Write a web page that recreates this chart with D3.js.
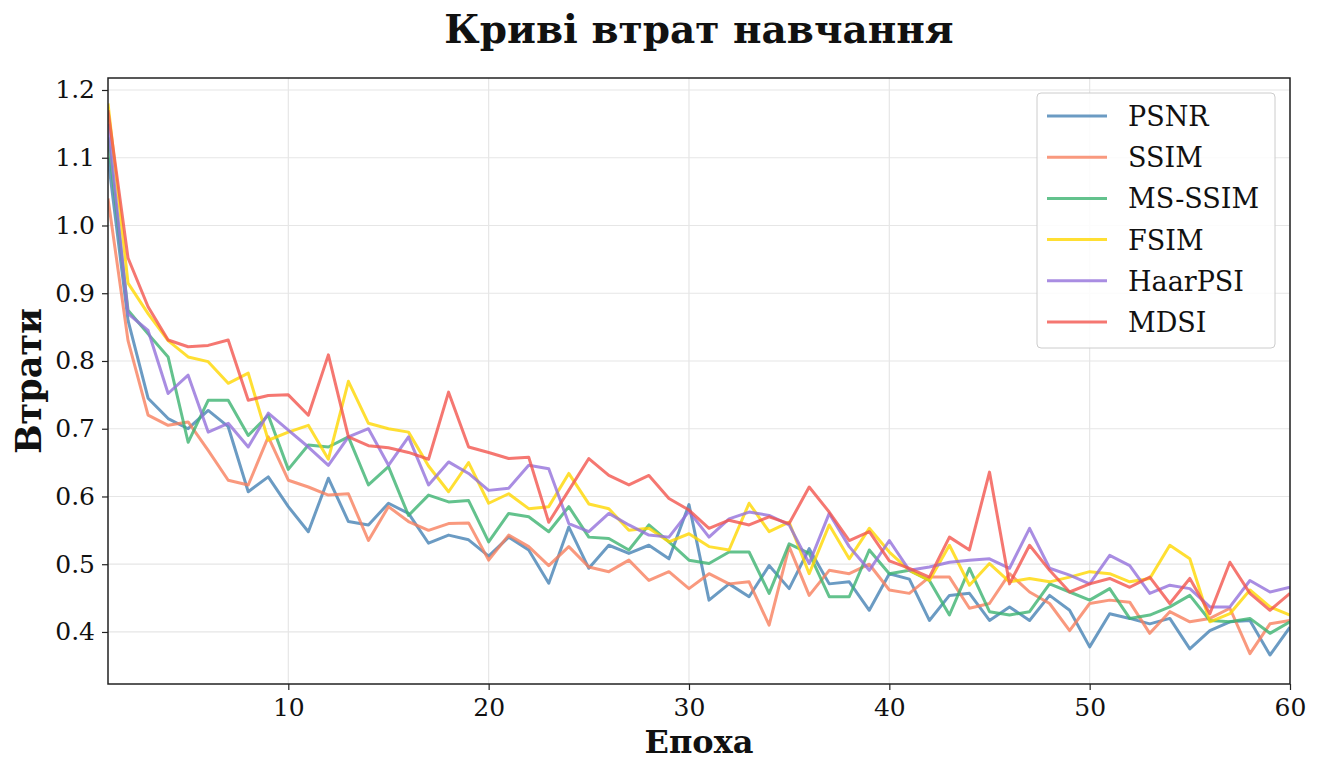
<!DOCTYPE html>
<html>
<head>
<meta charset="utf-8">
<script src="https://cdn.jsdelivr.net/npm/d3@7"></script>
<style>
  html, body { margin: 0; padding: 0; background: #fff; }
  svg { display: block; }
  text { font-family: "DejaVu Serif", serif; fill: #111; }
</style>
</head>
<body>
<svg id="chart" width="1323" height="762"></svg>
<script>
// Training-loss values per epoch for each loss function
const epochs = d3.range(1, 61);
const seriesNames = ["PSNR", "SSIM", "MS-SSIM", "FSIM", "HaarPSI", "MDSI"];

const psnr = [1.10, 0.86, 0.745, 0.715, 0.70, 0.727, 0.703, 0.607, 0.629, 0.585,
  0.548, 0.627, 0.563, 0.558, 0.59, 0.575, 0.531, 0.543, 0.536, 0.512,
  0.54, 0.521, 0.472, 0.555, 0.494, 0.528, 0.516, 0.528, 0.508, 0.588,
  0.447, 0.471, 0.452, 0.498, 0.464, 0.523, 0.471, 0.474, 0.432, 0.486,
  0.478, 0.417, 0.454, 0.457, 0.417, 0.437, 0.417, 0.454, 0.432, 0.378,
  0.427, 0.42, 0.412, 0.42, 0.375, 0.402, 0.415, 0.417, 0.366, 0.407];

const ssim = [1.04, 0.83, 0.72, 0.705, 0.71, 0.668, 0.624, 0.617, 0.688, 0.624,
  0.614, 0.602, 0.604, 0.535, 0.585, 0.563, 0.55, 0.56, 0.561, 0.506,
  0.543, 0.526, 0.498, 0.526, 0.496, 0.489, 0.506, 0.476, 0.489, 0.464,
  0.486, 0.471, 0.474, 0.41, 0.526, 0.454, 0.491, 0.486, 0.50, 0.462,
  0.457, 0.481, 0.481, 0.435, 0.442, 0.486, 0.459, 0.442, 0.402, 0.442,
  0.447, 0.444, 0.398, 0.43, 0.415, 0.42, 0.435, 0.368, 0.412, 0.417];

const msssim = [1.13, 0.875, 0.84, 0.806, 0.68, 0.742, 0.742, 0.69, 0.72, 0.64,
  0.676, 0.673, 0.688, 0.617, 0.644, 0.572, 0.602, 0.592, 0.594, 0.533,
  0.575, 0.57, 0.548, 0.585, 0.54, 0.538, 0.521, 0.558, 0.533, 0.506,
  0.501, 0.518, 0.518, 0.457, 0.53, 0.516, 0.452, 0.452, 0.521, 0.486,
  0.491, 0.476, 0.425, 0.494, 0.43, 0.425, 0.43, 0.471, 0.459, 0.447,
  0.464, 0.42, 0.425, 0.437, 0.454, 0.417, 0.415, 0.42, 0.398, 0.415];

const fsim = [1.18, 0.915, 0.87, 0.83, 0.806, 0.799, 0.767, 0.782, 0.683, 0.695,
  0.705, 0.655, 0.77, 0.708, 0.70, 0.695, 0.645, 0.607, 0.65, 0.59,
  0.604, 0.582, 0.585, 0.634, 0.589, 0.582, 0.55, 0.553, 0.533, 0.545,
  0.526, 0.521, 0.59, 0.548, 0.562, 0.486, 0.558, 0.508, 0.553, 0.518,
  0.491, 0.476, 0.528, 0.469, 0.501, 0.474, 0.479, 0.474, 0.481, 0.489,
  0.486, 0.474, 0.479, 0.528, 0.508, 0.415, 0.427, 0.462, 0.437, 0.425];

const haarpsi = [1.15, 0.87, 0.845, 0.752, 0.779, 0.695, 0.708, 0.673, 0.723, 0.698,
  0.673, 0.646, 0.688, 0.70, 0.646, 0.688, 0.617, 0.651, 0.634, 0.609,
  0.612, 0.646, 0.641, 0.56, 0.548, 0.575, 0.558, 0.543, 0.54, 0.578,
  0.54, 0.567, 0.577, 0.572, 0.558, 0.501, 0.575, 0.526, 0.491, 0.535,
  0.491, 0.496, 0.503, 0.506, 0.508, 0.494, 0.553, 0.494, 0.484, 0.471,
  0.513, 0.498, 0.457, 0.469, 0.464, 0.437, 0.437, 0.476, 0.459, 0.466];

const mdsi = [1.17, 0.952, 0.88, 0.831, 0.821, 0.823, 0.831, 0.742, 0.749, 0.75,
  0.72, 0.809, 0.688, 0.675, 0.672, 0.665, 0.655, 0.754, 0.673, 0.665,
  0.656, 0.658, 0.562, 0.609, 0.656, 0.631, 0.617, 0.631, 0.597, 0.58,
  0.553, 0.565, 0.558, 0.57, 0.56, 0.614, 0.577, 0.535, 0.548, 0.505,
  0.494, 0.481, 0.54, 0.521, 0.636, 0.471, 0.528, 0.491, 0.459, 0.471,
  0.479, 0.466, 0.481, 0.442, 0.479, 0.427, 0.503, 0.457, 0.432, 0.457];

const seriesValues = [psnr, ssim, msssim, fsim, haarpsi, mdsi];
const seriesColors = ["#4682B4", "#F8805E", "#3CB371", "#FFD700", "#9370DB", "#F2554E"];

const xTicks = [10, 20, 30, 40, 50, 60];
const yTicks = [0.4, 0.5, 0.6, 0.7, 0.8, 0.9, 1.0, 1.1, 1.2];

const titleText = "Криві втрат навчання";
const xLabel = "Епоха";
const yLabel = "Втрати";

// Plot frame
const plot = { left: 108, right: 1290, top: 78, bottom: 684 };

const svg = d3.select("#chart");

const x = d3.scaleLinear().domain([1, 60]).range([plot.left, plot.right]);
const y = d3.scaleLinear().domain([0.3232, 1.2177]).range([plot.bottom, plot.top]);

// Grid
const grid = svg.append("g");
grid.selectAll("line.gx").data(xTicks).join("line")
  .attr("x1", d => x(d)).attr("x2", d => x(d))
  .attr("y1", plot.top).attr("y2", plot.bottom)
  .attr("stroke", "#e6e6e6").attr("stroke-width", 1.2);
grid.selectAll("line.gy").data(yTicks).join("line")
  .attr("x1", plot.left).attr("x2", plot.right)
  .attr("y1", d => y(d)).attr("y2", d => y(d))
  .attr("stroke", "#e6e6e6").attr("stroke-width", 1.2);

// Lines
const line = d3.line()
  .x((d, i) => x(epochs[i]))
  .y(d => y(d));

svg.append("clipPath").attr("id", "plotclip")
  .append("rect")
  .attr("x", plot.left).attr("y", plot.top)
  .attr("width", plot.right - plot.left).attr("height", plot.bottom - plot.top);

svg.append("g").attr("clip-path", "url(#plotclip)")
  .selectAll("path.series")
  .data(seriesValues)
  .join("path")
  .attr("class", "series")
  .attr("d", d => line(d))
  .attr("fill", "none")
  .attr("stroke", (d, i) => seriesColors[i])
  .attr("stroke-width", 3)
  .attr("stroke-opacity", 0.8)
  .attr("stroke-linejoin", "round");

// Axes
const xAxis = d3.axisBottom(x).tickValues(xTicks).tickFormat(d3.format("d"))
  .tickSize(6).tickPadding(8);
const yAxis = d3.axisLeft(y).tickValues(yTicks).tickFormat(d3.format(".1f"))
  .tickSize(6).tickPadding(7);

const gx = svg.append("g").attr("transform", `translate(0,${plot.bottom})`).call(xAxis);
const gy = svg.append("g").attr("transform", `translate(${plot.left},0)`).call(yAxis);
[gx, gy].forEach(g => {
  g.select(".domain").remove();
  g.selectAll(".tick line").attr("stroke", "#222").attr("stroke-width", 1.2);
  g.selectAll(".tick text").attr("font-family", "DejaVu Serif").attr("font-size", 25).attr("fill", "#111");
});

// Frame
svg.append("rect")
  .attr("x", plot.left).attr("y", plot.top)
  .attr("width", plot.right - plot.left).attr("height", plot.bottom - plot.top)
  .attr("fill", "none").attr("stroke", "#222").attr("stroke-width", 1.5);

// Title and axis labels
svg.append("text")
  .attr("x", (plot.left + plot.right) / 2).attr("y", 43)
  .attr("text-anchor", "middle")
  .attr("font-size", 39).attr("font-weight", "bold")
  .text(titleText);

svg.append("text")
  .attr("x", (plot.left + plot.right) / 2).attr("y", 753)
  .attr("text-anchor", "middle")
  .attr("font-size", 32).attr("font-weight", "bold")
  .text(xLabel);

svg.append("text")
  .attr("transform", `translate(41,${(plot.top + plot.bottom) / 2}) rotate(-90)`)
  .attr("text-anchor", "middle")
  .attr("font-size", 35).attr("font-weight", "bold")
  .text(yLabel);

// Legend
const legend = svg.append("g").attr("transform", "translate(1037,93)");
legend.append("rect")
  .attr("width", 238).attr("height", 255).attr("rx", 4)
  .attr("fill", "#fff").attr("fill-opacity", 0.85)
  .attr("stroke", "#cccccc").attr("stroke-width", 1);
const items = legend.selectAll("g.item").data(seriesNames).join("g")
  .attr("class", "item")
  .attr("transform", (d, i) => `translate(0,${23 + i * 41.2})`);
items.append("line")
  .attr("x1", 10).attr("x2", 70).attr("y1", 0).attr("y2", 0)
  .attr("stroke", (d, i) => seriesColors[i])
  .attr("stroke-width", 3).attr("stroke-opacity", 0.8);
items.append("text")
  .attr("x", 91).attr("y", 10)
  .attr("font-size", 27)
  .text(d => d);
</script>
</body>
</html>
